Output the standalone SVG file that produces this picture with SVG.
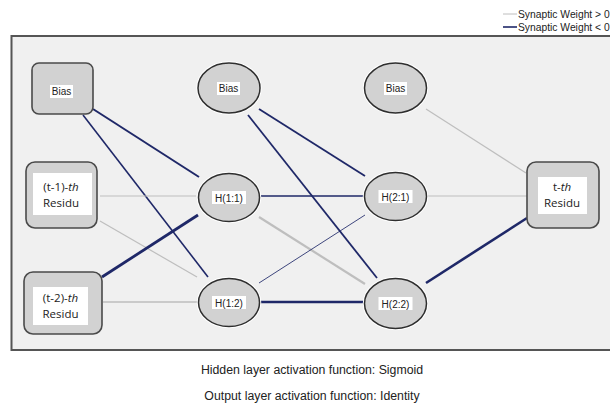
<svg xmlns="http://www.w3.org/2000/svg" width="610" height="405" viewBox="0 0 610 405">
<style>
text{font-family:"Liberation Sans",Arial,sans-serif;fill:#222}
.lbl{font-size:10px;text-anchor:middle}
.res{font-size:11.5px;text-anchor:middle;font-family:"Open Sans","Liberation Sans",sans-serif}
.cap{font-size:12.3px;text-anchor:middle}
.leg{font-size:10.3px}
.box{fill:#d2d2d2;stroke:#4a4a4a;stroke-width:1.6}
.ell{fill:#d2d2d2;stroke:#2e2e2e;stroke-width:1.5}
.halo{fill:none;stroke:#ffffff;stroke-width:1.5}
.wb{fill:#ffffff}
.pos{stroke:#bebebe;fill:none}
.neg{stroke:#1f2868;fill:none}
</style>
<rect x="0" y="0" width="610" height="405" fill="#ffffff"/>
<g id="legend">
<line x1="503" y1="14" x2="517" y2="14" class="pos" stroke-width="1"/>
<line x1="503" y1="27" x2="517" y2="27" class="neg" stroke-width="1.6"/>
<text x="518" y="17.5" class="leg">Synaptic Weight &gt; 0</text>
<text x="518" y="30.5" class="leg">Synaptic Weight &lt; 0</text>
</g>
<rect id="panel" x="11.5" y="36" width="610" height="314" fill="#f0f0f0" stroke="#555" stroke-width="2"/>
<g id="connectors">
<line x1="93" y1="109" x2="199" y2="177" class="neg" stroke-width="2"/>
<line x1="83" y1="115" x2="208" y2="277" class="neg" stroke-width="1.6"/>
<line x1="100" y1="196" x2="196" y2="196" class="pos" stroke-width="1.2"/>
<line x1="100" y1="221" x2="197" y2="277" class="pos" stroke-width="1.2"/>
<line x1="102" y1="277" x2="198" y2="215" class="neg" stroke-width="2.8"/>
<line x1="103" y1="302" x2="197" y2="302" class="pos" stroke-width="1.6"/>
<line x1="259" y1="109" x2="365" y2="176" class="neg" stroke-width="1.8"/>
<line x1="248" y1="115" x2="377" y2="278" class="neg" stroke-width="1.8"/>
<line x1="259" y1="196" x2="364" y2="196" class="neg" stroke-width="1.6"/>
<line x1="259" y1="217" x2="365" y2="284" class="pos" stroke-width="2.2"/>
<line x1="259" y1="283" x2="365" y2="215" class="neg" stroke-width="1" stroke-opacity="0.85"/>
<line x1="259" y1="302" x2="364" y2="302" class="neg" stroke-width="2.4"/>
<line x1="426" y1="109" x2="526" y2="173" class="pos" stroke-width="1.2"/>
<line x1="428" y1="196" x2="527" y2="196" class="pos" stroke-width="1.2"/>
<line x1="426" y1="283" x2="527" y2="218" class="neg" stroke-width="2.6"/>
</g>
<g id="bias-in">
<rect x="32" y="63" width="61" height="51" rx="7" class="box" stroke="#333"/>
<rect x="50" y="85" width="23" height="13" class="wb"/>
<text x="61.5" y="95" class="lbl">Bias</text>
</g>
<g id="in-t1">
<rect x="26" y="162" width="71" height="66" rx="9" class="box"/>
<rect x="33" y="173" width="59" height="42" class="wb"/>
<text x="61" y="191" class="res">(t-1)-<tspan font-style="italic">th</tspan></text>
<text x="61" y="207" class="res">Residu</text>
</g>
<g id="in-t2">
<rect x="24" y="272" width="78" height="62" rx="9" class="box"/>
<rect x="33" y="287" width="55" height="38" class="wb"/>
<text x="60.5" y="302" class="res">(t-2)-<tspan font-style="italic">th</tspan></text>
<text x="60.5" y="318" class="res">Residu</text>
</g>
<g id="bias-h1">
<ellipse cx="229" cy="88" rx="32" ry="26" class="halo"/>
<ellipse cx="229" cy="88" rx="31" ry="25" class="ell"/>
<rect x="217" y="82" width="23" height="13" class="wb"/>
<text x="228.5" y="92" class="lbl">Bias</text>
</g>
<g id="bias-h2">
<ellipse cx="395.5" cy="88" rx="32" ry="26" class="halo"/>
<ellipse cx="395.5" cy="88" rx="31" ry="25" class="ell"/>
<rect x="384" y="82" width="23" height="13" class="wb"/>
<text x="395.5" y="92" class="lbl">Bias</text>
</g>
<g id="h11">
<ellipse cx="229" cy="197.5" rx="31.5" ry="25" class="halo"/>
<ellipse cx="229" cy="197.5" rx="30.5" ry="24" class="ell"/>
<rect x="212" y="191" width="34" height="13" class="wb"/>
<text x="229" y="201.5" class="lbl">H(1:1)</text>
</g>
<g id="h12">
<ellipse cx="229" cy="302.5" rx="31.5" ry="25" class="halo"/>
<ellipse cx="229" cy="302.5" rx="30.5" ry="24" class="ell"/>
<rect x="212" y="296" width="34" height="13" class="wb"/>
<text x="229" y="306.5" class="lbl">H(1:2)</text>
</g>
<g id="h21">
<ellipse cx="395.5" cy="196.5" rx="32" ry="25" class="halo"/>
<ellipse cx="395.5" cy="196.5" rx="31" ry="24" class="ell"/>
<rect x="378.5" y="190" width="34" height="13" class="wb"/>
<text x="395.5" y="200.5" class="lbl">H(2:1)</text>
</g>
<g id="h22">
<ellipse cx="395.5" cy="303.5" rx="32" ry="26" class="halo"/>
<ellipse cx="395.5" cy="303.5" rx="31" ry="25" class="ell"/>
<rect x="378.5" y="297" width="34" height="13" class="wb"/>
<text x="395.5" y="307.5" class="lbl">H(2:2)</text>
</g>
<g id="out-t">
<rect x="527" y="162" width="72" height="66" rx="9" class="box"/>
<rect x="538" y="177" width="49" height="37" class="wb"/>
<text x="562" y="191" class="res">t-<tspan font-style="italic">th</tspan></text>
<text x="562" y="207" class="res">Residu</text>
</g>
<g id="captions">
<text x="312" y="374" class="cap">Hidden layer activation function: Sigmoid</text>
<text x="312" y="400" class="cap">Output layer activation function: Identity</text>
</g>
</svg>
